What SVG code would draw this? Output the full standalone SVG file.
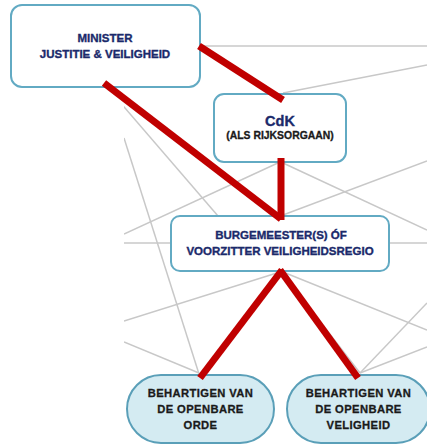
<svg xmlns="http://www.w3.org/2000/svg" width="427" height="446" viewBox="0 0 427 446">
<defs>
<clipPath id="bgclip"><rect x="124" y="0" width="303" height="446"/></clipPath>
<style>
.bg line{stroke:#c8c8c8;stroke-width:1.5;fill:none}
.box{fill:#ffffff;stroke:#62aac3;stroke-width:2}
.pill{fill:#d4ebf2;stroke:#5a9fb8;stroke-width:2}
.navy{font-family:"Liberation Sans",Arial,sans-serif;font-weight:bold;fill:#1b2a6b;stroke:#1b2a6b;stroke-width:0.35;text-anchor:middle}
.blk{font-family:"Liberation Sans",Arial,sans-serif;font-weight:bold;fill:#1a1a1a;stroke:#1a1a1a;stroke-width:0.3;text-anchor:middle}
.red line{stroke:#c00000;stroke-width:7;stroke-linecap:butt}
</style>
</defs>
<rect width="427" height="446" fill="#ffffff"/>
<g class="bg" clip-path="url(#bgclip)">
<line x1="200" y1="46" x2="427" y2="46"/>
<line x1="283" y1="93" x2="427" y2="65"/>
<line x1="100" y1="79" x2="218" y2="216"/>
<line x1="124" y1="138" x2="199" y2="374"/>
<line x1="124" y1="234" x2="280" y2="162"/>
<line x1="283" y1="163" x2="427" y2="230"/>
<line x1="124" y1="243" x2="427" y2="243"/>
<line x1="283" y1="215" x2="427" y2="161"/>
<line x1="124" y1="321" x2="280" y2="272"/>
<line x1="283" y1="272" x2="427" y2="330"/>
<line x1="124" y1="342" x2="199" y2="373"/>
<line x1="280" y1="270" x2="360" y2="373"/>
<line x1="360" y1="373" x2="427" y2="303"/>
<line x1="360" y1="373" x2="427" y2="347"/>
</g>
<g id="minister">
<rect class="box" x="11" y="5" width="189" height="82" rx="11"/>
<text class="navy" x="105" y="41.5" font-size="11.5">MINISTER</text>
<text class="navy" x="105" y="57.5" font-size="11.5">JUSTITIE &amp; VEILIGHEID</text>
</g>
<g id="cdk">
<rect class="box" x="214" y="94" width="132" height="68" rx="10"/>
<text class="navy" x="280" y="125.5" font-size="14.5">CdK</text>
<text class="blk" x="280" y="138.5" font-size="10.4">(ALS RIJKSORGAAN)</text>
</g>
<g id="burgemeester">
<rect class="box" x="171" y="216" width="218" height="55" rx="9"/>
<text class="navy" x="281" y="238.5" font-size="11.5">BURGEMEESTER(S) ÓF</text>
<text class="navy" x="280" y="255" font-size="11.5">VOORZITTER VEILIGHEIDSREGIO</text>
</g>
<g id="orde">
<rect class="pill" x="127" y="375" width="147" height="68" rx="34"/>
<text class="blk" x="200.5" y="397" font-size="11.2" letter-spacing="0.4">BEHARTIGEN VAN</text>
<text class="blk" x="200.5" y="413" font-size="11.2" letter-spacing="0.4">DE OPENBARE</text>
<text class="blk" x="200.5" y="429" font-size="11.2" letter-spacing="0.4">ORDE</text>
</g>
<g id="veiligheid">
<rect class="pill" x="287" y="375" width="143" height="68" rx="34"/>
<text class="blk" x="358.5" y="397" font-size="11.2" letter-spacing="0.4">BEHARTIGEN VAN</text>
<text class="blk" x="358.5" y="413" font-size="11.2" letter-spacing="0.4">DE OPENBARE</text>
<text class="blk" x="358.5" y="429" font-size="11.2" letter-spacing="0.4">VELIGHEID</text>
</g>
<g id="connectors" class="red">
<line x1="199" y1="46" x2="283" y2="100"/>
<line x1="104" y1="83" x2="281" y2="219"/>
<line x1="281" y1="158" x2="281" y2="220"/>
<line x1="282" y1="270" x2="200" y2="378"/>
<line x1="280" y1="270" x2="358" y2="378"/>
</g>
</svg>
